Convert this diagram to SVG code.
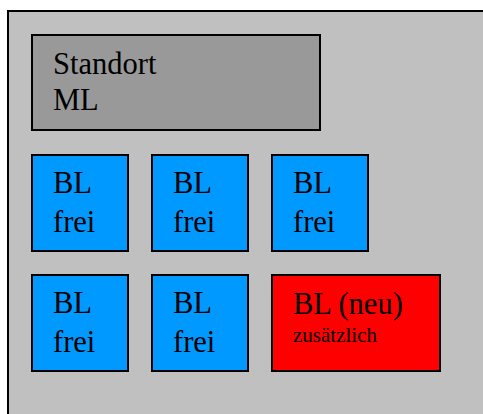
<svg xmlns="http://www.w3.org/2000/svg" width="483" height="414" viewBox="0 0 483 414">
<style>
.box{stroke:#000;stroke-width:2}
.t{font-family:"Liberation Serif",serif;font-size:30.5px;fill:#000}
.s{font-family:"Liberation Serif",serif;font-size:21px;fill:#000}
</style>
<rect width="483" height="414" fill="#fff"/>
<g id="outer"><rect x="8" y="11" width="480" height="410" fill="#c0c0c0" class="box"/></g>
<g id="standort"><rect x="32" y="35" width="288" height="95" fill="#999999" class="box"/>
<text class="t" x="53" y="74">Standort</text><text class="t" x="53" y="110">ML</text></g>
<g id="bl1"><rect x="32" y="155" width="96" height="96" fill="#0099ff" class="box"/><text class="t" x="53" y="193">BL</text><text class="t" x="53" y="232">frei</text></g>
<g id="bl2"><rect x="152" y="155" width="96" height="96" fill="#0099ff" class="box"/><text class="t" x="173" y="193">BL</text><text class="t" x="173" y="232">frei</text></g>
<g id="bl3"><rect x="272" y="155" width="96" height="96" fill="#0099ff" class="box"/><text class="t" x="293" y="193">BL</text><text class="t" x="293" y="232">frei</text></g>
<g id="bl4"><rect x="32" y="275" width="96" height="96" fill="#0099ff" class="box"/><text class="t" x="53" y="313">BL</text><text class="t" x="53" y="352">frei</text></g>
<g id="bl5"><rect x="152" y="275" width="96" height="96" fill="#0099ff" class="box"/><text class="t" x="173" y="313">BL</text><text class="t" x="173" y="352">frei</text></g>
<g id="blneu"><rect x="272" y="275" width="168" height="96" fill="#ff0000" class="box"/><text class="t" x="293" y="314">BL (neu)</text><text class="s" x="293" y="342">zusätzlich</text></g>
<g id="connectors"/>
</svg>
